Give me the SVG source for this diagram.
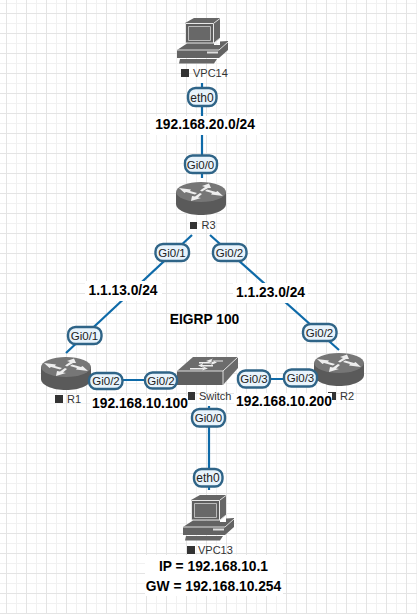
<svg xmlns="http://www.w3.org/2000/svg" width="417" height="614" viewBox="0 0 417 614">
<style>
text{font-family:"Liberation Sans",Arial,sans-serif}
.if rect{fill:#e8f3fb;stroke:#2f6487;stroke-width:2.4}
.if text{font-size:11.5px;fill:#222;text-anchor:middle}
.if text.e{font-size:12px}
.net rect{fill:#fff}
.net text{font-size:13.8px;font-weight:bold;fill:#000;text-anchor:middle}
.lbl{font-size:11px;fill:#333}
.sq{fill:#333}
.lnk{stroke:#0e6aa8;stroke-width:2.2;fill:none}
</style>
<defs>
<pattern id="grid" width="20" height="20" patternUnits="userSpaceOnUse" x="6" y="13">
<path d="M10.500 0V20M0 10.500H20" stroke="#f1f1f1" stroke-width="1" fill="none"/>
<path d="M.5 0V20M0 .5H20" stroke="#e4e4e4" stroke-width="1" fill="none"/>
</pattern>
<g id="router">
<path d="M0 10V22C0 28 11 33 25 33S50 28 50 22V10Z" fill="#5a5a5a"/>
<ellipse cx="25" cy="10" rx="25" ry="10" fill="#767676"/>
<path d="M3 6L15 7.500L14 9L21 11L19 12.500L10 10L8.500 11ZM47 14L35 12.500L36 11L29 9L31 7.500L40 10L41.500 9ZM33 1.500L35 6L32 6L26 9.500L24 8.500L29 5L26 4ZM15 19L16 14L19 14.500L24 11L26 12L22 15.500L25 16Z" fill="#eee"/>
</g>
<g id="pc">
<path d="M8 5L17 0H43V20L37 25H8Z" fill="#666"/>
<path d="M8.500 5.500H36.500V25H8.500Z" fill="#5e5e5e" stroke="#e8e8e8" stroke-width="1"/>
<path d="M11.500 8.500H33.500V22.500H11.500Z" fill="#686868" stroke="#bbb" stroke-width="1"/>
<path d="M37 5L43 .5M37 25L43 20" stroke="#ddd" stroke-width="1" fill="none"/>
<path d="M0 32L10 25.500H37V27H43V23.500L51 23V32L42 40H0Z" fill="#636363"/>
<path d="M0 32H42L51 24" fill="none" stroke="#ddd" stroke-width="1"/>
<path d="M30 33.500H41V35.500H30Z" fill="#ddd"/>
<path d="M3 41H40L37 45.500H2Z" fill="#666"/>
</g>
<g id="switch">
<path d="M0 14L16 0H61L46 14Z" fill="#6c6c6c"/>
<path d="M0 14H46V28H0Z" fill="#5f5f5f"/>
<path d="M46 14L61 0V11L46 28Z" fill="#6a6a6a"/>
<path d="M0 14H46L61 0M46 14V28" stroke="#ddd" stroke-width="1" fill="none"/>
<path d="M22 5H36L34 3L40 5.500L34 8L35 6.500H22ZM46 3.500H34L36 1.500L29 4L35 6L34 4.500H46ZM13 11H27L25 9L31 11.500L25 13.500L26 12.500H13ZM36 8H25L27 6L21 8.500L27 11L26 9.500H36Z" fill="#eee"/>
</g>
</defs>
<rect width="417" height="614" fill="#fff"/>
<rect width="417" height="614" fill="url(#grid)"/>
<g id="connectors" class="lnk">
<path d="M202 83V178"/>
<path d="M192 235L66 353"/>
<path d="M210 235L339 350"/>
<path d="M100 380H180"/>
<path d="M240 379H320"/>
<path d="M209 406V490"/>
</g>
<g id="VPC14"><use href="#pc" x="177" y="18"/><rect class="sq" x="181" y="69" width="8" height="8"/><text class="lbl" x="193" y="77">VPC14</text></g>
<g id="R3"><use href="#router" x="176" y="182"/><rect class="sq" x="190" y="222" width="7" height="7"/><text class="lbl" x="201.500" y="229">R3</text></g>
<g id="R1"><use href="#router" x="41" y="357"/><rect class="sq" x="55" y="395" width="8" height="8"/><text class="lbl" x="67" y="403">R1</text></g>
<g id="R2"><use href="#router" x="314" y="353"/><rect class="sq" x="328" y="392" width="8" height="8"/><text class="lbl" x="340" y="400">R2</text></g>
<g id="Switch"><use href="#switch" x="177" y="357"/><rect class="sq" x="188" y="392" width="7" height="8"/><text class="lbl" x="199" y="400">Switch</text></g>
<g id="VPC13"><use href="#pc" x="183" y="495"/><rect class="sq" x="187" y="546" width="8" height="8"/><text class="lbl" x="198" y="554">VPC13</text></g>
<g class="if">
<g id="if1"><rect x="188" y="88" width="28.500" height="18" rx="7.500"/><text class="e" x="202" y="101.500">eth0</text></g>
<g id="if2"><rect x="185" y="155.500" width="32" height="17.500" rx="7.500"/><text x="200.500" y="168.500">Gi0/0</text></g>
<g id="if3"><rect x="155.500" y="244" width="33.500" height="17" rx="7.500"/><text x="172" y="256.500">Gi0/1</text></g>
<g id="if4"><rect x="213" y="244" width="33.500" height="17" rx="7.500"/><text x="229.500" y="256.500">Gi0/2</text></g>
<g id="if5"><rect x="68" y="327" width="33.500" height="17" rx="7.500"/><text x="84.500" y="339.500">Gi0/1</text></g>
<g id="if6"><rect x="303" y="324" width="33.500" height="17" rx="7.500"/><text x="319.500" y="336.500">Gi0/2</text></g>
<g id="if7"><rect x="89" y="373" width="33.500" height="16" rx="7.500"/><text x="106" y="385">Gi0/2</text></g>
<g id="if8"><rect x="145" y="372.500" width="32" height="16" rx="7.500"/><text x="161" y="384.500">Gi0/2</text></g>
<g id="if9"><rect x="238" y="370.500" width="32" height="17" rx="7.500"/><text x="254" y="383">Gi0/3</text></g>
<g id="if10"><rect x="284" y="369.500" width="33" height="17" rx="7.500"/><text x="300.500" y="382">Gi0/3</text></g>
<g id="if11"><rect x="192" y="409" width="33" height="17.500" rx="7.500"/><text x="208.500" y="422">Gi0/0</text></g>
<g id="if12"><rect x="194" y="469" width="28.500" height="17.500" rx="7.500"/><text class="e" x="208" y="482">eth0</text></g>
</g>
<g class="net">
<g id="n1"><rect x="150" y="116" width="110" height="19"/><text x="205" y="129">192.168.20.0/24</text></g>
<g id="n2"><rect x="85" y="281" width="77" height="20"/><text x="123" y="295">1.1.13.0/24</text></g>
<g id="n3"><rect x="233" y="283" width="75" height="20"/><text x="270.500" y="297">1.1.23.0/24</text></g>
<g id="n4"><text x="204.500" y="324">EIGRP 100</text></g>
<g id="n5"><rect x="90" y="396" width="98" height="16"/><text x="140" y="408">192.168.10.100</text></g>
<g id="n6"><rect x="234" y="393" width="98" height="15"/><text x="284" y="406">192.168.10.200</text></g>
<g id="n7"><rect x="145" y="555" width="138" height="41"/><text x="213.500" y="570.500">IP = 192.168.10.1</text><text x="213.500" y="590.500">GW = 192.168.10.254</text></g>
</g>
</svg>
